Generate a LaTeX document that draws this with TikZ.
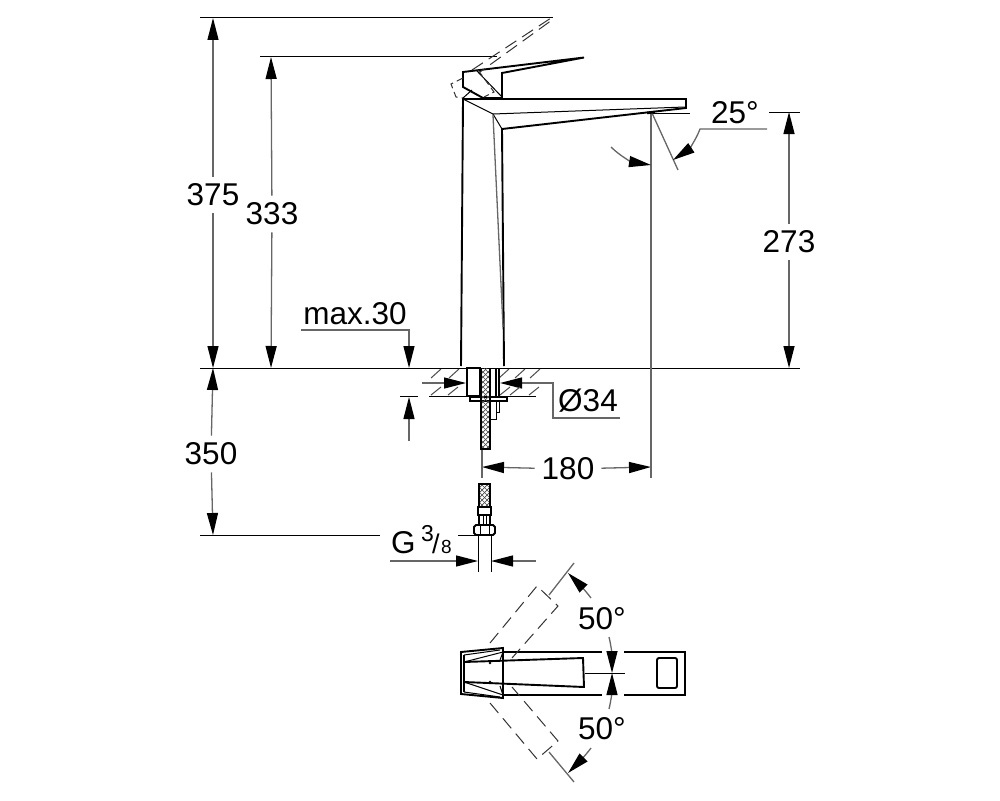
\documentclass[tikz,border=0pt]{standalone}
\usepackage{fontspec}
\setmainfont{Liberation Sans}
\usetikzlibrary{arrows.meta}

\begin{document}
\begin{tikzpicture}[x=1pt,y=-1pt,
                    thick line/.style={line width=1.9pt,black,line join=miter},
                    fine line/.style={line width=1pt,black},
                    dim line/.style={line width=1.3pt,black!60},
                    dash line/.style={line width=1pt,black!80,dash pattern=on 13pt off 7pt},
                    dim arrow/.style={dim line,-{Triangle[black,length=22pt,width=11pt]}},
                    dim label/.style={font=\fontsize{31.5}{36}\selectfont,inner sep=7pt}]
  \useasboundingbox (0,0) rectangle (1000,800);

  % end points of the dimensions
  \coordinate (t375) at (213,18);
  \coordinate (b375) at (213,368);
  \coordinate (t333) at (271,57);
  \coordinate (b333) at (271,368);
  \coordinate (t273) at (789,112);
  \coordinate (b273) at (789,368);
  \coordinate (t350) at (213,368);
  \coordinate (b350) at (213,535);
  \coordinate (l180) at (482,467);
  \coordinate (r180) at (651,467);

  % labels
  \node[dim label] (375) at (213,195) {375};
  \node[dim label] (333) at (272,214) {333};
  \node[dim label] (273) at (789,242) {273};
  \node[dim label] (350) at (211,454) {350};
  \node[dim label] (180) at (568,469) {180};
  \node[dim label] (25)  at (735,113) {25°};
  \node[dim label] (34)  at (588,401) {Ø34};
  \node[dim label] (max) at (355,314) {max.30};
  \node[dim label] (50a) at (602,619) {50°};
  \node[dim label] (50b) at (602,729) {50°};
  \node[dim label,inner sep=0pt,anchor=base west] (G) at (391,553) {G};
  \node[font=\fontsize{23}{24}\selectfont,inner sep=0pt,anchor=base west] (G3) at (421,541) {3};
  \node[font=\fontsize{27}{24}\selectfont,inner sep=0pt,anchor=base west] (G/) at (432,553) {/};
  \node[font=\fontsize{19}{20}\selectfont,inner sep=0pt,anchor=base west] (G8) at (441,553) {8};

  % dimension lines
  \draw[fine line] (200,18) -- (553,18);
  \draw[fine line] (260,57) -- (497,57);
  \draw[fine line] (200,368) -- (800,368);
  \draw[fine line] (200,535) -- (380,535);
  \draw[fine line] (458,535) -- (478,535);
  \draw[fine line] (651,113) -- (690,113);
  \draw[fine line] (769,112) -- (800,112);
  \draw[dim arrow] (375) -- (t375);
  \draw[dim arrow] (375) -- (b375);
  \draw[dim arrow] (333) -- (t333);
  \draw[dim arrow] (333) -- (b333);
  \draw[dim arrow] (273) -- (t273);
  \draw[dim arrow] (273) -- (b273);
  \draw[dim arrow] (350) -- (t350);
  \draw[dim arrow] (350) -- (b350);
  \draw[dim arrow] (180) -- (l180);
  \draw[dim arrow] (180) -- (r180);
  \draw[dim line] (482,449) -- (482,478);
  \draw[dim line] (651,113) -- (651,478);
  \draw[dim arrow] (301,330) -- (409,330) -- (409,368);
  \draw[fine line] (400,396) -- (418,396);
  \draw[dim arrow] (409,441) -- (409,397);
  \draw[dim arrow] (422,383) -- (466,383);
  \draw[dim arrow] (620,418) -- (553,418) -- (553,383) -- (500,383);
  \draw[dim arrow] (390,561) -- (478,561);
  \draw[dim arrow] (536,561) -- (491,561);

  % angle of the spout
  \draw[dim line] (652,113) -- (678,170);
  \draw[dim arrow] (767,129) -- (700,129) .. controls (696,140) and (688,150) .. (673,160);
  \draw[dim arrow] (611,147) .. controls (620,156) and (632,162) .. (651,165);
  \draw[line width=2.5pt] (647,113) -- (655,112);

  % tap body
  \draw[thick line] (461,366) -- (463,99) -- (686,99) -- (686,108) -- (502,129) -- (504,366);
  \draw[fine line] (463,99) -- (493,114) -- (685,107);
  \draw[fine line] (493,114) -- (502,129);
  \draw[dim line] (493,115) -- (503,327);

  % lever
  \draw[thick line] (502,98) -- (483,98) -- (463,87) -- (463,72) -- (584,57.5) -- (502,73) -- (502,98);
  \draw[fine line] (463,98) -- (472,90);
  \draw[fine line] (477,71) -- (502,97);
  \draw[dash line] (472,70) -- (551,18) -- (552,20) -- (480,72);
  \draw[dash line,dash pattern=on 7pt off 4pt] (463,78) -- (451,84) -- (456,97) -- (463,98);
  \draw[dash line,dash pattern=on 7pt off 4pt] (478,70) -- (494,92) -- (484,97);

  % basin section
  \draw[fine line] (429,368) -- (536,368);
  \draw[fine line] (429,396) -- (536,396);
  \foreach \hx in {431,449,499,515,530} \draw[fine line,black!70] (\hx,378) -- (\hx+10,369);
  \foreach \hx in {431,448,500,510,529} \draw[fine line,black!70] (\hx,395) -- (\hx+10,387);

  % fitting
  \draw[thick line] (467,368) rectangle (480,396);
  \draw[thick line] (496,368) -- (496,396);
  \draw[thick line] (499,368) -- (499,396);
  \draw[thick line] (470,397) -- (470,401) -- (507,401) -- (507,397) -- cycle;
  \draw[fine line] (490,402) -- (490,419) -- (496,419) -- (496,412) -- (499,412) -- (499,402);
  \draw[fine line] (496,402) -- (496,412);

  % hoses
  \begin{scope}
    \clip (481,368) rectangle (490,449);
    \foreach \hy in {360,365,...,450} {
      \draw[line width=.7pt,black!70] (481,\hy) -- (490,\hy+9);
      \draw[line width=.7pt,black!70] (490,\hy) -- (481,\hy+9);
    }
  \end{scope}
  \draw[thick line] (481,368) -- (481,449) -- (490,449) -- (490,368);
  \begin{scope}
    \clip (479,484) rectangle (490,507);
    \foreach \hy in {472,477,...,507} {
      \draw[line width=.7pt,black!70] (479,\hy) -- (490,\hy+11);
      \draw[line width=.7pt,black!70] (490,\hy) -- (479,\hy+11);
    }
  \end{scope}
  \draw[thick line] (479,484) rectangle (490,507);
  \draw[thick line] (478,507) rectangle (491,515);
  \draw[thick line] (479,515) rectangle (490,525);
  \draw[fine line] (483,515) -- (483,525);
  \draw[fine line] (486,515) -- (486,525);
  \draw[thick line] (476,525) -- (493,525) -- (495,527) -- (495,533) -- (493,535) -- (476,535) -- (474,533) -- (474,527) -- cycle;
  \draw[fine line] (480,525) -- (480,535);
  \draw[fine line] (489,525) -- (489,535);
  \draw[fine line] (478,535) -- (478,572);
  \draw[fine line] (491,535) -- (491,572);

  % plan view
  \draw[thick line] (503,652) -- (602,652);
  \draw[thick line] (624,652) -- (685,652) -- (685,695) -- (624,695);
  \draw[thick line] (602,695) -- (503,695);
  \draw[thick line] (503,648) -- (461,652) -- (461,694) -- (503,698) -- cycle;
  \draw[thick line] (464,655) -- (464,692);
  \draw[thick line] (464,662) -- (583,658) -- (584,687) -- (464,682);
  \draw[fine line] (464,655) -- (500,650);
  \draw[fine line] (464,692) -- (500,697);
  \draw[fine line] (464,662) -- (503,652);
  \draw[fine line] (464,682) -- (503,695);
  \draw[fine line] (500,660) -- (503,652);
  \draw[fine line] (500,686) -- (503,695);
  \fill (490,663) circle (1.3pt) (490,682) circle (1.3pt);
  \draw[thick line,rounded corners=2pt] (657,658) rectangle (677,688);
  \draw[fine line] (585,673) -- (625,673);

  % swung lever
  \draw[dash line] (490,643) -- (537,586) -- (558,606) -- (512,658);
  \draw[dash line] (490,703) -- (537,759) -- (558,741) -- (512,687);

  % angle of the lever
  \draw[dim line] (574,563) -- (549,595);
  \draw[dim line] (574,782) -- (549,752);
  \draw[dim arrow] (591,598) .. controls (585,590) and (578,583) .. (568,573);
  \draw[dim arrow] (591,748) .. controls (585,756) and (578,763) .. (568,773);
  \draw[dim arrow] (609,637) .. controls (611,645) and (612,655) .. (612,673);
  \draw[dim arrow] (609,709) .. controls (611,701) and (612,691) .. (612,673);
\end{tikzpicture}
\end{document}
